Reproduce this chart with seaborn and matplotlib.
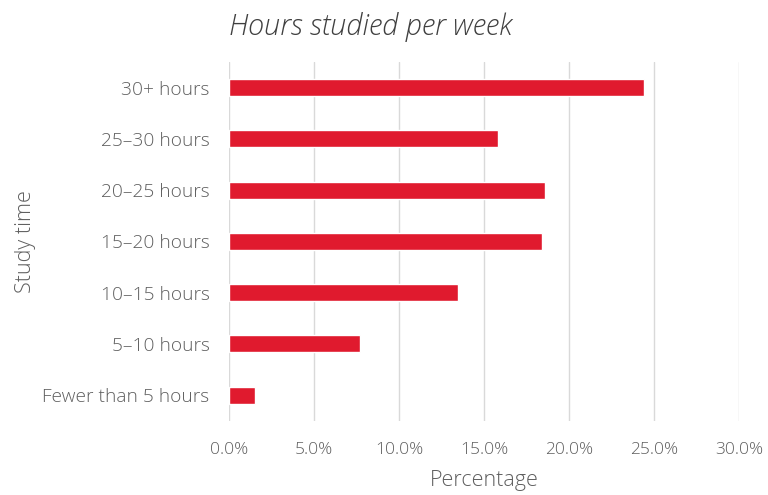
import pandas as pd
import seaborn as sns
import matplotlib.pyplot as plt
import matplotlib.ticker as mticker

# dados
categorias = ["30+ hours", "25–30 hours", "20–25 hours", "15–20 hours",
              "10–15 hours", "5–10 hours", "Fewer than 5 hours"]
percentuais = [24.4, 15.8, 18.6, 18.4, 13.5, 7.7, 1.5]
ticks_x = [0, 5, 10, 15, 20, 25, 30]

df = pd.DataFrame({"Study time": categorias, "Percentage": percentuais})

sns.set_style("white")
plt.rcParams["font.family"] = ["Open Sans", "DejaVu Sans"]

cinza = "#5f5f5f"
fig = plt.figure(figsize=(7.68, 4.95), dpi=100)
ax = fig.add_axes([0.2982, 0.150, 0.664, 0.7247])

sns.barplot(data=df, y="Study time", x="Percentage", orient="h",
            color="#E01A2E", width=0.33, errorbar=None, ax=ax,
            saturation=1, zorder=3)

ax.set_xlim(0, 30)
ax.set_xticks(ticks_x)
ax.xaxis.set_major_formatter(mticker.FuncFormatter(lambda v, _p: f"{v:.1f}%"))
ax.grid(axis="x", color="#d9d9d9", linewidth=1, zorder=0)
ax.set_axisbelow(True)
sns.despine(ax=ax, left=True, bottom=True)
ax.tick_params(axis="both", length=0, labelcolor=cinza)
ax.tick_params(axis="x", pad=15, labelsize=12.5)
ax.tick_params(axis="y", pad=14, labelsize=13.8)
for lbl in ax.get_xticklabels() + ax.get_yticklabels():
    lbl.set_fontweight("light")

ax.set_xlabel("Percentage", fontsize=15.5, color=cinza, fontweight="light", labelpad=9)
ax.set_ylabel("Study time", fontsize=15.5, color=cinza, fontweight="light", labelpad=5)

fig.text(0.2982, 0.946, "Hours studied per week", fontsize=20.8, style="italic",
         fontweight="light", color="#404040", ha="left", va="center")

fig.savefig("out.png", dpi=100)
